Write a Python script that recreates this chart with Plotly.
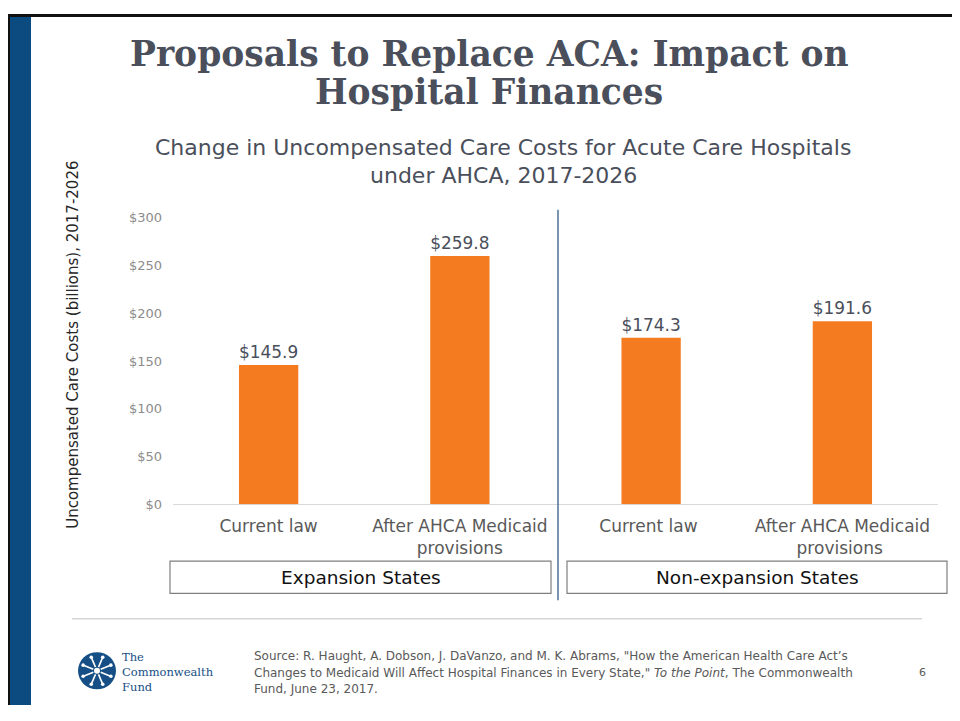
import plotly.graph_objects as go
import math

# ---- data ----
categories = ["Current law", "After AHCA Medicaid<br>provisions", "Current law ", "After AHCA Medicaid<br>provisions "]
values = [145.9, 259.8, 174.3, 191.6]
value_labels = ["$145.9", "$259.8", "$174.3", "$191.6"]
groups = ["Expansion States", "Non-expansion States"]
tick_vals = [0, 50, 100, 150, 200, 250, 300]
tick_text = ["$0", "$50", "$100", "$150", "$200", "$250", "$300"]
source_lines = [
    "Source: R. Haught, A. Dobson, J. DaVanzo, and M. K. Abrams, \"How the American Health Care Act\u2019s",
    "Changes to Medicaid Will Affect Hospital Finances in Every State,\" <i>To the Point</i>, The Commonwealth",
    "Fund, June 23, 2017.",
]

# figure is placed at page offset (8, 8) by the body margin
W, H = 944, 705
OX, OY = 8, 8
def px(x): return (x - OX) / W
def py(y): return 1 - (y - OY) / H

SANS = "DejaVu Sans, Verdana, sans-serif"
SERIF = "DejaVu Serif, Georgia, serif"
ORANGE = "#f47b20"
TITLE_C = "#4a4f5b"

fig = go.Figure()
fig.add_trace(go.Bar(
    x=categories, y=values, marker=dict(color=ORANGE, line=dict(width=0)),
    text=value_labels, textposition="outside", cliponaxis=False,
    textfont=dict(family=SANS, size=21.5, color="#4a4f5b"),
    hoverinfo="skip",
))

fig.update_layout(
    width=W, height=H, margin=dict(l=0, r=0, t=0, b=0),
    paper_bgcolor="white", plot_bgcolor="white",
    showlegend=False, bargap=0.69,
    xaxis=dict(domain=[px(173), px(938)], showgrid=False, showline=False,
               ticks="", tickfont=dict(family=SANS, size=17, color="#595959"),
               ticklabelstandoff=10, zeroline=False, fixedrange=True),
    yaxis=dict(domain=[py(508), py(215)], range=[0, 300], tickvals=tick_vals,
               ticktext=tick_text, showgrid=False, zeroline=True,
               zerolinecolor="#d9d9d9", zerolinewidth=1, showline=False,
               tickfont=dict(family=SANS, size=13, color="#8c8c8c"),
               ticklabelstandoff=10, fixedrange=True),
)

shapes = []
annotations = []

# frame: black border + blue band
shapes.append(dict(type="rect", xref="paper", yref="paper", x0=px(9), x1=px(31), y0=0, y1=py(9),
                   fillcolor="#0b4b80", line=dict(width=0), layer="below"))
shapes.append(dict(type="line", xref="paper", yref="paper", x0=px(8), x1=1, y0=py(8.5), y1=py(8.5),
                   line=dict(color="#111111", width=3)))
shapes.append(dict(type="line", xref="paper", yref="paper", x0=px(8.5), x1=px(8.5), y0=0, y1=py(8),
                   line=dict(color="#111111", width=3)))

# title (two lines placed separately for tight spacing)
for txt, yy in [("Proposals to Replace ACA: Impact on", 48), ("Hospital Finances", 87)]:
    annotations.append(dict(xref="paper", yref="paper", x=px(489), y=py(yy), xanchor="center", yanchor="middle",
                            text="<b>" + txt + "</b>", showarrow=False,
                            font=dict(family=SERIF, size=34.5, color=TITLE_C)))
# subtitle
for txt, yy in [("Change in Uncompensated Care Costs for Acute Care Hospitals", 143), ("under AHCA, 2017-2026", 172)]:
    annotations.append(dict(xref="paper", yref="paper", x=px(503), y=py(yy), xanchor="center", yanchor="middle",
                            text=txt, showarrow=False, font=dict(family=SANS, size=22, color=TITLE_C)))
# y axis title
annotations.append(dict(xref="paper", yref="paper", x=px(73), y=py(345), xanchor="center", yanchor="middle",
                        text="Uncompensated Care Costs (billions), 2017-2026", textangle=-90, showarrow=False,
                        font=dict(family=SANS, size=15, color="#262626")))

# divider
shapes.append(dict(type="line", xref="paper", yref="paper", x0=px(558), x1=px(558), y0=py(606), y1=py(207),
                   line=dict(color="#1f4e79", width=1.2)))

# group boxes
for name, (x0, x1) in zip(groups, [(170, 551), (567, 947)]):
    shapes.append(dict(type="rect", xref="paper", yref="paper", x0=px(x0), x1=px(x1), y0=py(599), y1=py(566),
                       line=dict(color="#7f7f7f", width=1.2), fillcolor="rgba(0,0,0,0)"))
    annotations.append(dict(xref="paper", yref="paper", x=px((x0 + x1) / 2), y=py(583), xanchor="center",
                            yanchor="middle", text=name, showarrow=False,
                            font=dict(family=SANS, size=18.5, color="#111111")))

# separator line
shapes.append(dict(type="line", xref="paper", yref="paper", x0=px(72), x1=px(922), y0=py(625), y1=py(625),
                   line=dict(color="#bfbfbf", width=1)))

# logo
cx, cy, r = 97, 678, 19
shapes.append(dict(type="circle", xref="paper", yref="paper", x0=px(cx - r), x1=px(cx + r), y0=py(cy + r), y1=py(cy - r),
                   fillcolor="#164f85", line=dict(width=0)))
for k in range(8):
    a = k * math.pi / 4 + math.pi / 8
    shapes.append(dict(type="line", xref="paper", yref="paper",
                       x0=px(cx + 4 * math.cos(a)), y0=py(cy + 4 * math.sin(a)),
                       x1=px(cx + 14 * math.cos(a)), y1=py(cy + 14 * math.sin(a)),
                       line=dict(color="white", width=1.6)))
    bx, by = cx + 15 * math.cos(a), cy + 15 * math.sin(a)
    shapes.append(dict(type="circle", xref="paper", yref="paper", x0=px(bx - 1.8), x1=px(bx + 1.8),
                       y0=py(by + 1.8), y1=py(by - 1.8), fillcolor="white", line=dict(width=0)))
shapes.append(dict(type="circle", xref="paper", yref="paper", x0=px(cx - 3), x1=px(cx + 3), y0=py(cy + 3), y1=py(cy - 3),
                   fillcolor="white", line=dict(width=0)))
annotations.append(dict(xref="paper", yref="paper", x=px(120), y=py(679), xanchor="left", yanchor="middle",
                        text="The<br>Commonwealth<br>Fund", showarrow=False, align="left",
                        font=dict(family=SERIF, size=11.5, color="#164f85")))

# source
for txt, yy in zip(source_lines, [663, 680, 697]):
    annotations.append(dict(xref="paper", yref="paper", x=px(252), y=py(yy), xanchor="left", yanchor="middle",
                            align="left", showarrow=False, text=txt,
                            font=dict(family=SANS, size=12, color="#595959")))
annotations.append(dict(xref="paper", yref="paper", x=px(922), y=py(680), xanchor="center", yanchor="middle",
                        text="6", showarrow=False, font=dict(family=SANS, size=11, color="#595959")))

fig.update_layout(shapes=shapes, annotations=annotations)
fig.write_html("out.html")
